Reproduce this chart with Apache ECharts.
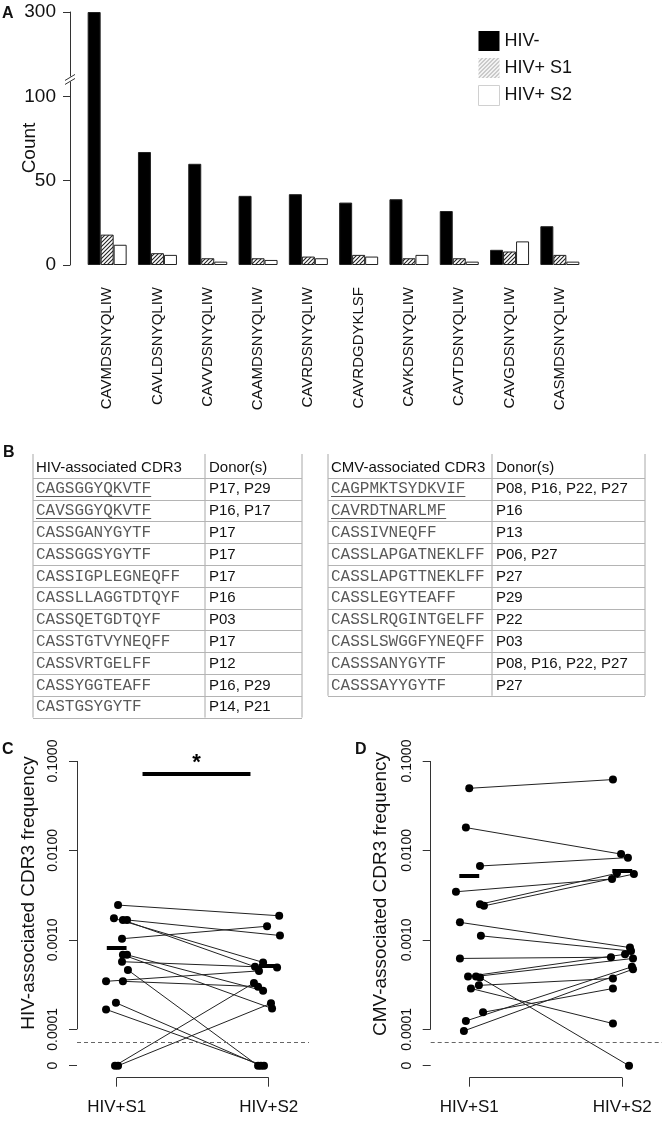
<!DOCTYPE html>
<html><head><meta charset="utf-8">
<script src="https://cdn.jsdelivr.net/npm/echarts@6/dist/echarts.min.js"></script>
<style>html,body{margin:0;padding:0;background:#fff}#c{width:665px;height:1123px}</style>
</head><body><div id="c"></div>
<script>
// ---------- Panel A data ----------
const cdr3Categories = ['CAVMDSNYQLIW','CAVLDSNYQLIW','CAVVDSNYQLIW','CAAMDSNYQLIW','CAVRDSNYQLIW','CAVRDGDYKLSF','CAVKDSNYQLIW','CAVTDSNYQLIW','CAVGDSNYQLIW','CASMDSNYQLIW'];
const countHIVneg = [300, 67, 60, 41, 42, 37, 39, 32, 9, 23];
const countHIVS1  = [18, 7, 4, 4, 5, 6, 4, 4, 8, 6];
const countHIVS2  = [12, 6, 2, 3, 4, 5, 6, 2, 14, 2];
const countTicks  = [0, 50, 100, 300];
const countBreakStart = 100;   // axis is compressed (broken) above this value
const countBreakMark = 140;    // where the // break symbol sits
const seriesNamesA = ['HIV-', 'HIV+ S1', 'HIV+ S2'];

// ---------- Panel B data ----------
const hivTableHeader = ['HIV-associated CDR3', 'Donor(s)'];
const hivCDR3   = ['CAGSGGYQKVTF','CAVSGGYQKVTF','CASSGANYGYTF','CASSGGSYGYTF','CASSIGPLEGNEQFF','CASSLLAGGTDTQYF','CASSQETGDTQYF','CASSTGTVYNEQFF','CASSVRTGELFF','CASSYGGTEAFF','CASTGSYGYTF'];
const hivDonors = ['P17, P29','P16, P17','P17','P17','P17','P16','P03','P17','P12','P16, P29','P14, P21'];
const cmvTableHeader = ['CMV-associated CDR3', 'Donor(s)'];
const cmvCDR3   = ['CAGPMKTSYDKVIF','CAVRDTNARLMF','CASSIVNEQFF','CASSLAPGATNEKLFF','CASSLAPGTTNEKLFF','CASSLEGYTEAFF','CASSLRQGINTGELFF','CASSLSWGGFYNEQFF','CASSSANYGYTF','CASSSAYYGYTF'];
const cmvDonors = ['P08, P16, P22, P27','P16','P13','P06, P27','P27','P29','P22','P03','P08, P16, P22, P27','P27'];
const underlinedCDR3 = ['CAGSGGYQKVTF','CAVSGGYQKVTF','CAGPMKTSYDKVIF','CAVRDTNARLMF'];

// ---------- Panel C data (paired S1 -> S2) ----------
const hivFreqS1 = [0.00245,0.00174,0.00167,0.00167,0.00103,0.00068,0.00068,0.00057,0.00046,0.000344,0.000344,0.000198,0.000167,0,0];
const hivFreqS2 = [0.00186,0.00056,0.00050,0.00112,0.00142,0.000171,0.00027,0.00049,0,0.00045,0.00030,0,0,0.00033,0.000195];
const hivJitterS1 = [0.009,-0.018,0.041,0.068,0.035,0.041,0.068,0.035,0.074,-0.070,0.041,-0.005,-0.070,-0.011,0.009];
const hivJitterS2 = [0.069,-0.037,-0.090,0.074,-0.011,0.022,-0.037,0.055,-0.070,-0.064,-0.070,-0.051,-0.031,-0.097,0.015];
const hivMedians = [0.00081, 0.000516];
const hivSignif = {from: 1.17, to: 1.88, freq: 0.072, text: '*'};

// ---------- Panel D data (paired S1 -> S2) ----------
const cmvFreqS1 = [0.0495,0.018,0.0067,0.00345,0.0025,0.0024,0.00157,0.00111,0.00062,0.00039,0.00039,0.00038,0.00031,0.000286,0.000155,0.000124,0.000096];
const cmvFreqS2 = [0.062,0.0091,0.0083,0.0048,0.00555,0.00545,0.00082,0.00075,0.00064,0.00069,0.00062,0,0.00037,0.000116,0.000286,0.0005,0.00047];
const cmvJitterS1 = [0,-0.022,0.070,-0.087,0.070,0.096,-0.061,0.076,-0.061,-0.008,0.044,0.070,0.063,0.011,0.090,-0.022,-0.035];
const cmvJitterS2 = [-0.061,-0.008,0.037,-0.067,-0.035,0.076,0.050,0.057,-0.074,0.018,0.070,0.044,-0.061,-0.061,-0.061,0.063,0.070];
const cmvMedians = [0.0052, 0.0059];

// ---------- shared axis data ----------
const groupLabels = ['HIV+S1', 'HIV+S2'];
const freqTicks = [0, 0.0001, 0.001, 0.01, 0.1];
const freqTickLabels = ['0', '0.0001', '0.0010', '0.0100', '0.1000'];
const detectionLimit = 0.00007;

// ================= build =================
const FONT = '"Liberation Sans", Arial, Helvetica, sans-serif';
const MONO = '"Liberation Mono", "Courier New", monospace';
const INK = '#111';

// broken count axis transform
const toA = v => v <= countBreakStart ? v : countBreakStart + (v - countBreakStart) / 4;
const fromA = t => t <= countBreakStart + 1e-9 ? t : countBreakStart + (t - countBreakStart) * 4;
// frequency axis transform: log10, zero placed below the axis
const ZERO_POS = -4.407;
const toF = v => v > 0 ? Math.log10(v) : ZERO_POS;
const fTickVals = freqTicks.map(toF);
const fLabel = v => { const i = fTickVals.findIndex(t => Math.abs(t - v) < 1e-6); return i >= 0 ? freqTickLabels[i] : ''; };

function hatch(color, bg) {
  const c = document.createElement('canvas'); c.width = 4; c.height = 4;
  const g = c.getContext('2d');
  g.fillStyle = bg; g.fillRect(0, 0, 4, 4);
  g.strokeStyle = color; g.lineWidth = 1.1;
  g.beginPath();
  g.moveTo(-1, 5); g.lineTo(5, -1);
  g.moveTo(-1, 1); g.lineTo(1, -1);
  g.moveTo(3, 5); g.lineTo(5, 3);
  g.stroke();
  return c;
}
const hatchBar = {image: hatch('#222', '#fff'), repeat: 'repeat'};
const hatchLegend = {image: hatch('#aaa', '#fff'), repeat: 'repeat'};

// ---- tables as graphic elements ----
function table(x0, xDiv, x1, top, rowH, header, seqs, donors) {
  const els = [];
  const n = seqs.length + 1;
  const bottom = top + n * rowH;
  [x0, xDiv, x1].forEach(x => els.push({type:'line', shape:{x1:x, y1:top - 2, x2:x, y2:bottom}, style:{stroke:'#a8a8a8', lineWidth:1}}));
  for (let k = 1; k <= n; k++) {
    const y = Math.round(top + k * rowH) + 0.5;
    els.push({type:'line', shape:{x1:x0, y1:y, x2:x1, y2:y}, style:{stroke:'#b4b4b4', lineWidth:1}});
  }
  const cy = i => top + rowH * (i + 0.5) + 0.5;
  const txt = (x, y, s, font, color) => ({type:'text', x:x, y:y, style:{text:s, font:font, fill:color, align:'left', verticalAlign:'middle', textAlign:'left', textVerticalAlign:'middle'}});
  els.push(txt(x0 + 3, cy(0), header[0], '15px ' + FONT, INK));
  els.push(txt(xDiv + 4, cy(0), header[1], '15px ' + FONT, INK));
  seqs.forEach((s, i) => {
    els.push(txt(x0 + 3, cy(i + 1), s, '16px ' + MONO, '#5a5a5a'));
    els.push(txt(xDiv + 4, cy(i + 1), donors[i], '15px ' + FONT, INK));
    if (underlinedCDR3.includes(s)) {
      const y = Math.round(cy(i + 1) + 7) + 0.5;
      els.push({type:'line', shape:{x1:x0 + 3, y1:y, x2:x0 + 3 + s.length * 9.6, y2:y}, style:{stroke:'#5a5a5a', lineWidth:1}});
    }
  });
  return els;
}

const rot = (x, y, s, size) => ({type:'text', x:x, y:y, rotation:Math.PI / 2, style:{text:s, font:size + 'px ' + FONT, fill:INK, align:'center', verticalAlign:'middle', textAlign:'center', textVerticalAlign:'middle'}});
const letter = (x, y, s) => ({type:'text', x:x, y:y, style:{text:s, font:'bold 16px ' + FONT, fill:INK, align:'left', verticalAlign:'top', textAlign:'left', textVerticalAlign:'top'}});

const graphics = [].concat(
  [letter(2, 6, 'A'), letter(3, 445, 'B'), letter(2, 742, 'C'), letter(355, 742, 'D')],
  [rot(30, 148, 'Count', 19), rot(29, 893, 'HIV-associated CDR3 frequency', 19), rot(381, 894, 'CMV-associated CDR3 frequency', 19)],
  table(33, 205, 302, 456, 21.8, hivTableHeader, hivCDR3, hivDonors),
  table(328, 492, 645, 456, 21.8, cmvTableHeader, cmvCDR3, cmvDonors)
);

// ---- paired panels ----
const YMIN = -4.541, YMAX = -0.8;
function pairedAxes(idx, xmin, xmax) {
  const x = {gridIndex: idx, type:'value', min:xmin, max:xmax,
    axisLine:{show:false}, splitLine:{show:false},
    axisTick:{show:true, customValues:[1, 2], length:9, lineStyle:{color:'#333', width:1}},
    axisLabel:{show:true, customValues:[1, 2], formatter: v => groupLabels[Math.round(v) - 1], margin:21, fontSize:17, color:INK, fontFamily:FONT}};
  const y = {gridIndex: idx, type:'value', min:YMIN, max:YMAX,
    axisLine:{show:false}, splitLine:{show:false},
    axisTick:{show:true, customValues:fTickVals, length:8, lineStyle:{color:'#333', width:1}},
    axisLabel:{show:true, customValues:fTickVals, formatter: fLabel, rotate:90, margin:17, fontSize:14, color:INK, fontFamily:FONT}};
  return [x, y];
}
function pairedSeries(idx, xmin, s1, s2, j1, j2, medians, signif) {
  const pts = [];
  const segs = [];
  s1.forEach((v, i) => {
    const a = [1 + j1[i], toF(v)], b = [2 + j2[i], toF(s2[i])];
    pts.push(a, b);
    segs.push({coords:[a, b]});
  });
  const out = [
    {type:'lines', coordinateSystem:'cartesian2d', xAxisIndex:idx, yAxisIndex:idx, silent:true, z:3,
      data:segs, lineStyle:{color:'#222', width:1, opacity:1}},
    // axis line (0.0001 .. 0.1) and bottom bracket
    {type:'lines', coordinateSystem:'cartesian2d', xAxisIndex:idx, yAxisIndex:idx, silent:true, z:3,
      data:[{coords:[[xmin, toF(freqTicks[1])], [xmin, toF(freqTicks[4])]]}, {coords:[[1, YMIN], [2, YMIN]]}],
      lineStyle:{color:'#333', width:1, opacity:1}},
    // medians
    {type:'lines', coordinateSystem:'cartesian2d', xAxisIndex:idx, yAxisIndex:idx, silent:true, z:4,
      data: medians.map((m, g) => ({coords:[[g + 1 - 0.065, toF(m)], [g + 1 + 0.065, toF(m)]]})),
      lineStyle:{color:'#000', width:4, opacity:1}},
    {type:'scatter', xAxisIndex:idx, yAxisIndex:idx, silent:true, z:5, symbolSize:8, clip:false,
      itemStyle:{color:'#000', opacity:1}, data:pts,
      markLine:{silent:true, symbol:'none', label:{show:false}, animation:false,
        lineStyle:{color:'#666', type:[4, 3], width:1}, data:[{yAxis: toF(detectionLimit)}]}}
  ];
  if (signif) {
    out.push({type:'lines', coordinateSystem:'cartesian2d', xAxisIndex:idx, yAxisIndex:idx, silent:true, z:4,
      data:[{coords:[[signif.from, toF(signif.freq)], [signif.to, toF(signif.freq)]]}],
      lineStyle:{color:'#000', width:4, opacity:1}});
    out.push({type:'scatter', xAxisIndex:idx, yAxisIndex:idx, silent:true, z:6, symbol:'circle', symbolSize:1, clip:false,
      itemStyle:{color:'rgba(0,0,0,0)'}, data:[[(signif.from + signif.to) / 2, toF(signif.freq)]],
      label:{show:true, position:'top', distance:-1, formatter:signif.text, fontSize:22, fontWeight:'bold', color:'#000', fontFamily:FONT, opacity:1}});
  }
  return out;
}

const cAxes = pairedAxes(1, 0.739, 2.265);
const dAxes = pairedAxes(2, 0.748, 2.2595);

const barStyle = {borderColor:'#222', borderWidth:1};
const option = {
  animation:false,
  backgroundColor:'#fff',
  textStyle:{fontFamily:FONT, color:INK},
  grid:[
    {left:82, top:12, width:503, height:253, containLabel:false, outerBoundsMode:'none'},
    {left:77, top:743.1, width:232, height:334.6, containLabel:false, outerBoundsMode:'none'},
    {left:430.7, top:743.1, width:231.3, height:334.6, containLabel:false, outerBoundsMode:'none'}
  ],
  legend:{left:473, top:26, orient:'vertical', icon:'rect', itemWidth:21, itemHeight:20, itemGap:7,
    selectedMode:false, textStyle:{fontSize:18, color:INK, fontFamily:FONT},
    data:[
      {name:seriesNamesA[0], itemStyle:{color:'#000', borderWidth:0}},
      {name:seriesNamesA[1], itemStyle:{color:hatchLegend, borderWidth:0}},
      {name:seriesNamesA[2], itemStyle:{color:'#fff', borderColor:'#d0d0d0', borderWidth:1}}
    ]},
  xAxis:[
    {gridIndex:0, type:'category', data:cdr3Categories, axisLine:{show:false}, axisTick:{show:false},
      axisLabel:{rotate:90, interval:0, margin:22, fontSize:15, color:INK, fontFamily:FONT}},
    cAxes[0], dAxes[0]
  ],
  yAxis:[
    {gridIndex:0, type:'value', min:0, max:toA(countTicks[3]), offset:12,
      axisLine:{show:true, lineStyle:{color:'#333', width:1}}, splitLine:{show:false},
      axisTick:{show:true, customValues:countTicks.map(toA), length:7, lineStyle:{color:'#333'}},
      axisLabel:{customValues:countTicks.map(toA), formatter: v => String(Math.round(fromA(v))), margin:14, fontSize:19, color:INK, fontFamily:FONT}},
    cAxes[1], dAxes[1]
  ],
  graphic:{elements:graphics},
  series:[
    {name:seriesNamesA[0], type:'bar', xAxisIndex:0, yAxisIndex:0, barWidth:13, barGap:'0%', data:countHIVneg.map(toA), itemStyle:Object.assign({color:'#000'}, barStyle)},
    {name:seriesNamesA[1], type:'bar', xAxisIndex:0, yAxisIndex:0, barWidth:13, barGap:'0%', data:countHIVS1.map(toA), itemStyle:Object.assign({color:hatchBar}, barStyle)},
    {name:seriesNamesA[2], type:'bar', xAxisIndex:0, yAxisIndex:0, barWidth:13, barGap:'0%', data:countHIVS2.map(toA), itemStyle:Object.assign({color:'#fff'}, barStyle)},
    {type:'custom', coordinateSystem:'cartesian2d', xAxisIndex:0, yAxisIndex:0, clip:false, silent:true, z:10,
      data:[[0, toA(countBreakMark)]],
      renderItem:(params, api) => {
        const p = api.coord([0, api.value(1)]);
        const ax = params.coordSys.x - 12, y = p[1];
        return {type:'group', children:[
          {type:'rect', shape:{x:ax - 3, y:y - 3, width:6, height:5}, style:{fill:'#fff'}},
          {type:'line', shape:{x1:ax - 5, y1:y + 1, x2:ax + 5, y2:y - 5}, style:{stroke:'#333', lineWidth:1}},
          {type:'line', shape:{x1:ax - 5, y1:y + 5, x2:ax + 5, y2:y - 1}, style:{stroke:'#333', lineWidth:1}}
        ]};
      }}
  ].concat(
    pairedSeries(1, 0.739, hivFreqS1, hivFreqS2, hivJitterS1, hivJitterS2, hivMedians, hivSignif),
    pairedSeries(2, 0.748, cmvFreqS1, cmvFreqS2, cmvJitterS1, cmvJitterS2, cmvMedians, null)
  )
};
const chart = echarts.init(document.getElementById('c'), null, {renderer:'canvas'});
chart.setOption(option);
</script></body></html>
